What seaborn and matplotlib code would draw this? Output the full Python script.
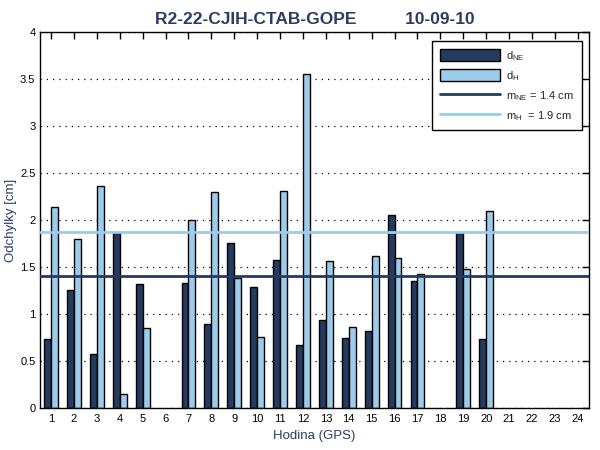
import numpy as np
import pandas as pd
import matplotlib
matplotlib.use("Agg")
import matplotlib.pyplot as plt
import seaborn as sns
from matplotlib.patches import Patch
from matplotlib.lines import Line2D
from matplotlib.ticker import FuncFormatter

hours = list(range(1, 25))
d_ne = [0.74, 1.26, 0.58, 1.86, 1.32, np.nan, 1.33, 0.89, 1.76, 1.29,
        1.58, 0.67, 0.94, 0.75, 0.82, 2.05, 1.35, np.nan, 1.86, 0.74,
        np.nan, np.nan, np.nan, np.nan]
d_h = [2.14, 1.80, 2.36, 0.15, 0.85, np.nan, 2.00, 2.30, 1.38, 0.76,
       2.31, 3.55, 1.56, 0.86, 1.62, 1.60, 1.43, np.nan, 1.48, 2.10,
       np.nan, np.nan, np.nan, np.nan]
m_ne = 1.4
m_h = 1.87
series_labels = [r"d$_{\mathrm{NE}}$", r"d$_{\mathrm{H}}$"]
line_labels = [r"m$_{\mathrm{NE}}$ = 1.4 cm", r"m$_{\mathrm{H}}$  = 1.9 cm"]
title = "R2-22-CJIH-CTAB-GOPE          10-09-10"

c_ne = "#243a5e"
c_h = "#9dcbea"
navy = "#2b3d63"

df = pd.DataFrame({
    "hour": hours * 2,
    "value": d_ne + d_h,
    "series": ["NE"] * len(hours) + ["H"] * len(hours),
})

sns.set_style("white")
plt.rcParams["font.family"] = ["Liberation Sans", "DejaVu Sans"]
plt.rcParams["mathtext.fontset"] = "custom"
plt.rcParams["mathtext.rm"] = "Liberation Sans"
plt.rcParams["mathtext.it"] = "Liberation Sans"

fig = plt.figure(figsize=(6, 4.5), dpi=100)
ax = fig.add_axes([0.066, 0.093, 0.916, 0.836])

ax.yaxis.grid(True, linestyle=(0, (1, 4)), color="black", linewidth=0.9)
ax.set_axisbelow(True)

sns.barplot(data=df, x="hour", y="value", hue="series", order=hours,
            hue_order=["NE", "H"], palette={"NE": c_ne, "H": c_h},
            width=0.6, errorbar=None, edgecolor="black", linewidth=1.0,
            saturation=1, legend=False, ax=ax)

ax.axhline(m_ne, color=c_ne, linewidth=2, zorder=5)
ax.axhline(m_h, color=c_h, linewidth=2, zorder=5)

ax.set_xlim(-0.5, 23.5)
ax.set_ylim(0, 4)
ax.set_yticks(np.arange(0, 4.01, 0.5))
ax.yaxis.set_major_formatter(FuncFormatter(lambda v, p: f"{v:g}"))
ax.set_xticks(range(24))
ax.set_xticklabels([str(h) for h in hours])

for s in ax.spines.values():
    s.set_color("black")
    s.set_linewidth(1.0)
    s.set_visible(True)

ax.tick_params(direction="in", length=5, width=1, top=True, right=True,
               labelsize=8, colors="black")
ax.tick_params(axis="x", pad=4)
ax.tick_params(axis="y", pad=3)

ax.set_xlabel("Hodina (GPS)", color=navy, fontsize=9.5)
ax.set_ylabel("Odchylky [cm]", color=navy, fontsize=9.5)
ax.xaxis.set_label_coords(0.5, -0.058)
ax.yaxis.set_label_coords(-0.042, 0.5)
ax.set_title(title, color=navy, fontsize=12.5, fontweight="bold", pad=6)

handles = [
    Patch(facecolor=c_ne, edgecolor="black", linewidth=1.0),
    Patch(facecolor=c_h, edgecolor="black", linewidth=1.0),
    Line2D([0], [0], color=c_ne, linewidth=2),
    Line2D([0], [0], color=c_h, linewidth=2),
]
leg = ax.legend(handles, series_labels + line_labels, loc="upper right",
                fontsize=8, frameon=True, fancybox=False, framealpha=1,
                edgecolor="black", handlelength=5.4, handleheight=1.26,
                borderpad=0.7, labelspacing=0.55, handletextpad=0.6,
                borderaxespad=0, bbox_to_anchor=(0.987, 0.975))
leg.get_frame().set_linewidth(1.0)

fig.savefig("out.png", dpi=100)
